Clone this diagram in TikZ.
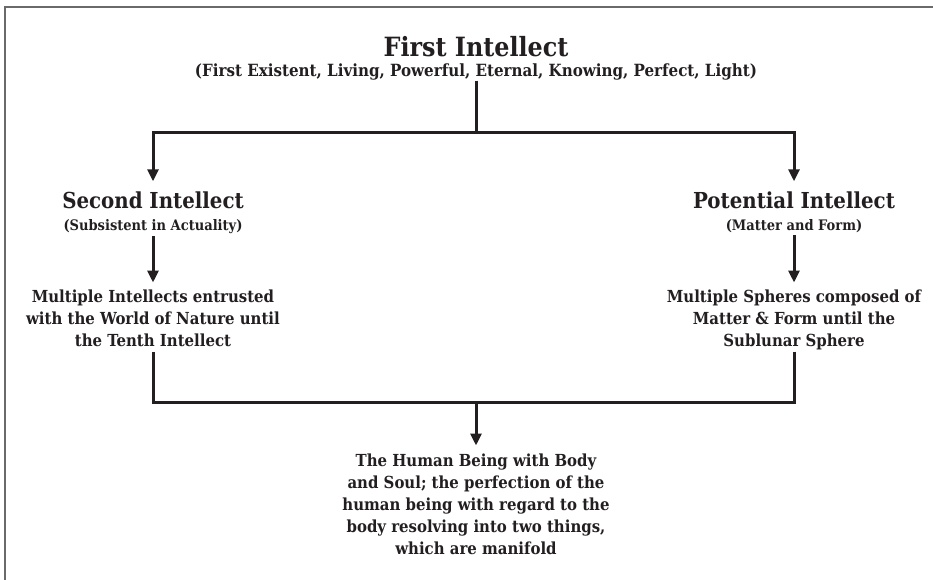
\documentclass[tikz,border=0pt]{standalone}
\usepackage{fontspec}
\setmainfont{DejaVu Serif Condensed}
\usetikzlibrary{arrows.meta}
\definecolor{ink}{HTML}{231F20}
\definecolor{frame}{HTML}{6A6A6A}
\tikzset{
  x=1pt, y=-1pt,
  txt/.style={inner sep=0pt, outer sep=0pt, align=center, text=ink, font=\bfseries},
  ttl/.style={txt, font=\bfseries\fontsize{26.5}{30}\selectfont},
  ttlsub/.style={txt, font=\bfseries\fontsize{16.8}{20}\selectfont},
  hd/.style={txt, font=\bfseries\fontsize{22}{26}\selectfont},
  hdsub/.style={txt, font=\bfseries\fontsize{14.5}{17}\selectfont},
  bodytxt/.style={txt, font=\bfseries\fontsize{16.6}{22}\selectfont},
  conn/.style={draw=ink, line width=3pt},
  arr/.style={conn, -{Triangle[width=11pt,length=12pt]}},
}
\begin{document}
\begin{tikzpicture}
\useasboundingbox (0,0) rectangle (933,580);
\draw[frame, line width=2pt] (5,580) -- (5,7) -- (933,7);

\node[ttl, anchor=base] (fi) at (476,57) {First Intellect};
\node[ttlsub, anchor=base] (fis) at (476,77) {(First Existent, Living, Powerful, Eternal, Knowing, Perfect, Light)};

\node[hd, anchor=base] (si) at (153,208) {Second Intellect};
\node[hdsub, anchor=base] (sis) at (153,230) {(Subsistent in Actuality)};
\node[bodytxt, anchor=north] (mi) at (153,289.5) {Multiple Intellects entrusted\\with the World of Nature until\\the Tenth Intellect};

\node[hd, anchor=base] (pi) at (794,208) {Potential Intellect};
\node[hdsub, anchor=base] (pis) at (794,230) {(Matter and Form)};
\node[bodytxt, anchor=north] (ms) at (794,289.5) {Multiple Spheres composed of\\Matter \& Form until the\\Sublunar Sphere};

\node[bodytxt, anchor=north] (hb) at (476,453.5) {The Human Being with Body\\and Soul; the perfection of the\\human being with regard to the\\body resolving into two things,\\which are manifold};

\coordinate (top) at (476,133);
\coordinate (bot) at (476,402);
\draw[conn] (fis.south) |- (top);
\draw[arr] (top) -| ([yshift=10pt]si.north);
\draw[arr] (top) -| ([yshift=10pt]pi.north);
\draw[arr] ([yshift=-3pt]sis.south) -- ([yshift=7pt]mi.north);
\draw[arr] ([yshift=-3pt]pis.south) -- ([yshift=7pt]ms.north);
\draw[conn] ([yshift=-6pt]mi.south) |- (bot);
\draw[conn] ([yshift=-2pt]ms.south) |- (bot);
\draw[arr] (bot) -- ([yshift=8pt]hb.north);
\end{tikzpicture}
\end{document}
